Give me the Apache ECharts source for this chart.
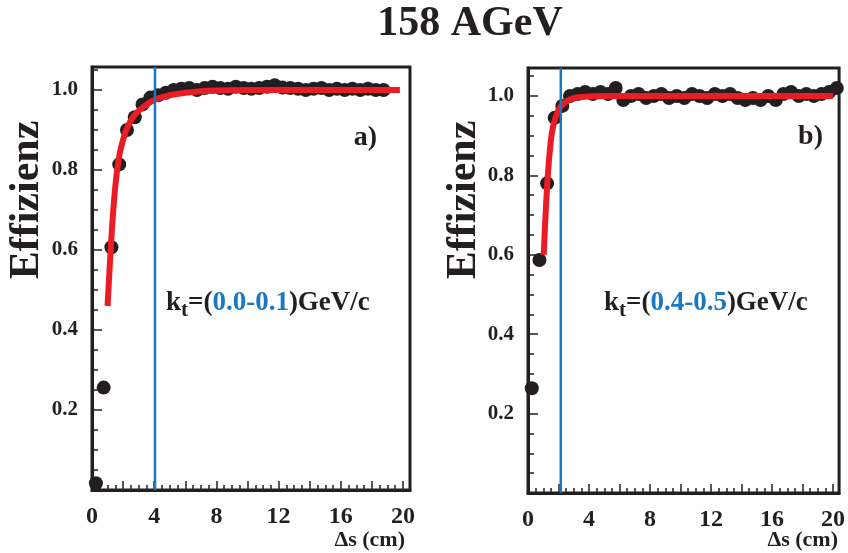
<!DOCTYPE html>
<html><head><meta charset="utf-8">
<script src="https://cdn.jsdelivr.net/npm/echarts@6/dist/echarts.min.js"></script>
<style>html,body{margin:0;padding:0;background:#fff}#c{width:848px;height:553px}</style>
</head><body><div id="c"></div>
<script>
// ---- data ----
const pointsXLeft = [0.25,0.75,1.25,1.75,2.25,2.75,3.25,3.75,4.25,4.75,5.25,5.75,6.25,6.75,7.25,7.75,8.25,8.75,9.25,9.75,10.25,10.75,11.25,11.75,12.25,12.75,13.25,13.75,14.25,14.75,15.25,15.75,16.25,16.75,17.25,17.75,18.25,18.75];
const effLeft = [0.017,0.256,0.607,0.814,0.900,0.932,0.964,0.981,0.987,0.993,1.000,1.003,1.005,1.000,1.005,1.008,1.005,1.003,1.008,1.005,1.003,1.005,1.008,1.012,1.006,1.005,1.003,1.000,1.003,1.005,1.000,1.003,1.000,1.003,1.000,1.003,1.000,1.000];
const pointsXRight = [0.25,0.75,1.25,1.75,2.25,2.75,3.25,3.75,4.25,4.75,5.25,5.75,6.25,6.75,7.25,7.75,8.25,8.75,9.25,9.75,10.25,10.75,11.25,11.75,12.25,12.75,13.25,13.75,14.25,14.75,15.25,15.75,16.25,16.75,17.25,17.75,18.25,18.75,19.25,19.75,20.25];
const effRight = [0.264,0.587,0.780,0.945,0.975,1.000,1.005,1.010,1.005,1.010,1.005,1.020,0.990,1.000,1.005,0.995,1.000,1.005,0.995,1.000,0.995,1.005,1.000,0.995,1.005,1.000,1.005,0.995,0.990,0.995,0.990,1.000,0.990,1.005,1.010,1.000,1.005,1.000,1.005,1.010,1.020];
const fitXLeft = [1.0,1.2,1.4,1.6,1.8,2.0,2.2,2.6,3.0,3.5,4.0,5.0,6.0,7.0,8.0,10.0,19.8];
const fitYLeft = [0.46,0.60,0.715,0.795,0.845,0.875,0.90,0.93,0.948,0.963,0.975,0.987,0.993,0.997,0.999,1.0,1.0];
const fitXRight = [1.03,1.15,1.3,1.45,1.6,1.8,2.0,2.3,2.7,3.2,4.0,5.0,20.0];
const fitYRight = [0.60,0.70,0.80,0.87,0.915,0.945,0.965,0.98,0.99,0.996,0.999,1.0,1.0];
const cutLeft = 4.05;
const cutRight = 2.15;
const xTickLabels = [0,4,8,12,16,20];
const yTickLabels = [0.2,0.4,0.6,0.8,1.0];
const kLabels = ['0.0-0.1','0.4-0.5'];
const panelLabels = ['a)','b)'];
const titleText = '158 AGeV';
const yTitle = 'Effizienz';
const xTitle = '\u0394s (cm)';

// ---- style ----
const FONT = "'Liberation Serif','DejaVu Serif',serif";
const INK = '#231f20';
const RED = '#ec1c24';
const BLUE = '#1a78c2';
const yMaxL = 1.0575, yMaxR = 1.0705;

function zip(a,b){return a.map((v,i)=>[v,b[i]]);}
function xAxisCfg(idx,max){
  return {gridIndex:idx,type:'value',min:0,max:max,interval:2,
    axisLine:{show:true,lineStyle:{color:INK,width:3}},
    axisTick:{show:true,inside:true,length:9,lineStyle:{color:INK,width:1.5}},
    minorTick:{show:true,splitNumber:4,length:5,lineStyle:{color:INK,width:1.5}},
    splitLine:{show:false},
    axisLabel:{margin:15,fontFamily:FONT,fontWeight:'bold',fontSize:24,color:INK,
      formatter:v=>xTickLabels.indexOf(Math.round(v*1000)/1000)>=0?String(v):''}};
}
function yAxisCfg(idx,max){
  return {gridIndex:idx,type:'value',min:0,max:max,interval:0.2,
    axisLine:{show:true,lineStyle:{color:INK,width:3}},
    axisTick:{show:true,inside:true,length:10,lineStyle:{color:INK,width:1.5}},
    minorTick:{show:true,splitNumber:4,length:6,lineStyle:{color:INK,width:1.5}},
    splitLine:{show:false},
    axisLabel:{margin:14,fontFamily:FONT,fontWeight:'bold',fontSize:21,color:INK,
      formatter:v=>{const r=Math.round(v*1000)/1000;return yTickLabels.indexOf(r)>=0?r.toFixed(1):'';}}};
}
function panelSeries(idx,px,py,fx,fy,cut,ymax){
  return [
    {type:'scatter',xAxisIndex:idx,yAxisIndex:idx,data:zip(px,py),symbolSize:14,
      itemStyle:{color:INK,opacity:1},z:2,clip:false},
    {type:'line',xAxisIndex:idx,yAxisIndex:idx,data:zip(fx,fy),smooth:0.35,showSymbol:false,symbol:'none',
      lineStyle:{color:RED,width:6},z:3},
    {type:'line',xAxisIndex:idx,yAxisIndex:idx,data:[[cut,0],[cut,ymax]],showSymbol:false,symbol:'none',
      lineStyle:{color:BLUE,width:2.5},z:4}
  ];
}
function kText(x,y,lab){
  return {type:'text',left:x,top:y,z:10,style:{
    text:'{k|k}{t|t}{k|=(}{b|'+lab+'}{k|)GeV/c}',
    rich:{
      k:{fontFamily:FONT,fontWeight:'bold',fontSize:27,fill:INK},
      t:{fontFamily:FONT,fontWeight:'bold',fontSize:21,fill:INK,padding:[14,0,0,0]},
      b:{fontFamily:FONT,fontWeight:'bold',fontSize:27,fill:BLUE}
    }}};
}
const chart = echarts.init(document.getElementById('c'),null,{renderer:'canvas'});
chart.setOption({
  animation:false,
  backgroundColor:'#fff',
  grid:[
    {left:92,top:67,width:318,height:423,show:true,borderColor:INK,borderWidth:3,backgroundColor:'transparent'},
    {left:528,top:68,width:316,height:425,show:true,borderColor:INK,borderWidth:3,backgroundColor:'transparent'}
  ],
  xAxis:[xAxisCfg(0,20.45),xAxisCfg(1,20.4)],
  yAxis:[yAxisCfg(0,yMaxL),yAxisCfg(1,yMaxR)],
  series:[].concat(
    panelSeries(0,pointsXLeft,effLeft,fitXLeft,fitYLeft,cutLeft,yMaxL),
    panelSeries(1,pointsXRight,effRight,fitXRight,fitYRight,cutRight,yMaxR)
  ),
  graphic:[
    {type:'text',x:470,y:24,style:{text:titleText,fontFamily:FONT,fontWeight:'bold',fontSize:42,fill:INK,align:'center',verticalAlign:'middle'}},
    {type:'text',x:27,y:200,rotation:Math.PI/2,style:{text:yTitle,fontFamily:FONT,fontWeight:'bold',fontSize:42,fill:INK,align:'center',verticalAlign:'middle'}},
    {type:'text',x:464,y:200,rotation:Math.PI/2,style:{text:yTitle,fontFamily:FONT,fontWeight:'bold',fontSize:42,fill:INK,align:'center',verticalAlign:'middle'}},
    {type:'text',x:405,y:540,style:{text:xTitle,fontFamily:FONT,fontWeight:'bold',fontSize:22,fill:INK,align:'right',verticalAlign:'middle'}},
    {type:'text',x:838,y:540,style:{text:xTitle,fontFamily:FONT,fontWeight:'bold',fontSize:22,fill:INK,align:'right',verticalAlign:'middle'}},
    {type:'text',x:377,y:138,style:{text:panelLabels[0],fontFamily:FONT,fontWeight:'bold',fontSize:28,fill:INK,align:'right',verticalAlign:'middle'}},
    {type:'text',x:823,y:137,style:{text:panelLabels[1],fontFamily:FONT,fontWeight:'bold',fontSize:28,fill:INK,align:'right',verticalAlign:'middle'}},
    kText(166,290,kLabels[0]),
    kText(604,290,kLabels[1])
  ]
});
</script></body></html>
